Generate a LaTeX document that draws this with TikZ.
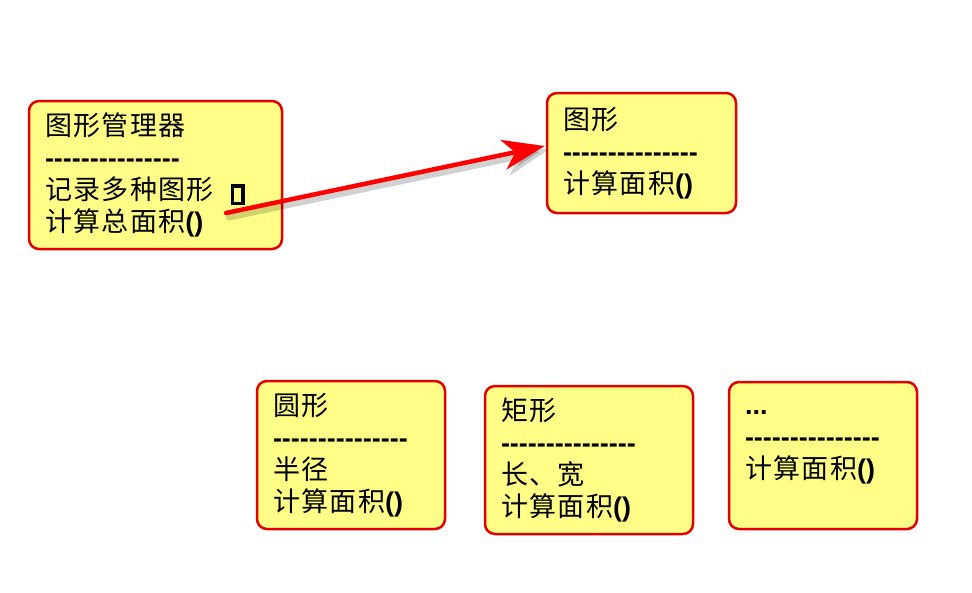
\documentclass[tikz,border=0pt]{standalone}
\usepackage{fontspec}
\setmainfont{Noto Sans CJK SC}[LetterSpace=5]
\newfontfamily\lat{Liberation Sans}
\usetikzlibrary{arrows.meta,calc}
\definecolor{boxfill}{RGB}{255,255,136}
\definecolor{boxline}{RGB}{228,0,0}
\newcommand\dashrow{{\lat\bfseries -{}-{}-{}-{}-{}-{}-{}-{}-{}-{}-{}-{}-{}-{}-}}
\newcommand\parens{{\lat\bfseries ()}}
\newcommand\missingbox{\raisebox{-2pt}{\setlength\fboxrule{3.5pt}\setlength\fboxsep{0pt}\fbox{\rule{0pt}{14pt}\hspace{7pt}}}}
\tikzset{
  umlbox/.style={draw=boxline, line width=2.5pt, fill=boxfill, rounded corners=10pt,
    align=left, inner xsep=16pt, inner ysep=0pt,
    font=\fontsize{27}{32}\selectfont},
  bigarrow/.style={draw=red, line width=4.5pt, line cap=round,
    -{Stealth[length=42pt,width=30pt,inset=12pt]}},
  arrowshadow/.style={draw=black, opacity=0.18, line width=7pt, line cap=round,
    -{Stealth[length=42pt,width=34pt,inset=12pt]}}
}
\begin{document}
\begin{tikzpicture}[x=1pt,y=-1pt]
\useasboundingbox (0,0) rectangle (972,592);
\node[umlbox, minimum width=253pt, minimum height=148pt, text width=221pt] (mgr) at (155.5,175)
  {图形管理器\\\dashrow\\记录多种图形\hspace{17pt}\missingbox\\计算总面积\parens};
\node[umlbox, minimum width=189pt, minimum height=120pt, text width=157pt] (shape) at (641.5,153)
  {图形\\\dashrow\\计算面积\parens};
\node[umlbox, minimum width=188pt, minimum height=148pt, text width=156pt] (circ) at (351,455)
  {圆形\\\dashrow\\半径\\计算面积\parens};
\node[umlbox, minimum width=208pt, minimum height=148pt, text width=176pt] (rect) at (589,460)
  {矩形\\\dashrow\\长、宽\\计算面积\parens};
\node[umlbox, minimum width=188pt, minimum height=147pt, text width=156pt] (more) at (823,455.5)
  {{\lat\bfseries ...}\\\dashrow\\计算面积\parens\\[-10pt]\mbox{}};
\coordinate (src) at (226,213);
\coordinate (dst) at ($(shape.west)+(-1,-7)$);
\draw[arrowshadow, transform canvas={shift={(3pt,-4pt)}}] (src) -- (dst);
\draw[bigarrow] (src) -- (dst);
\end{tikzpicture}
\end{document}
